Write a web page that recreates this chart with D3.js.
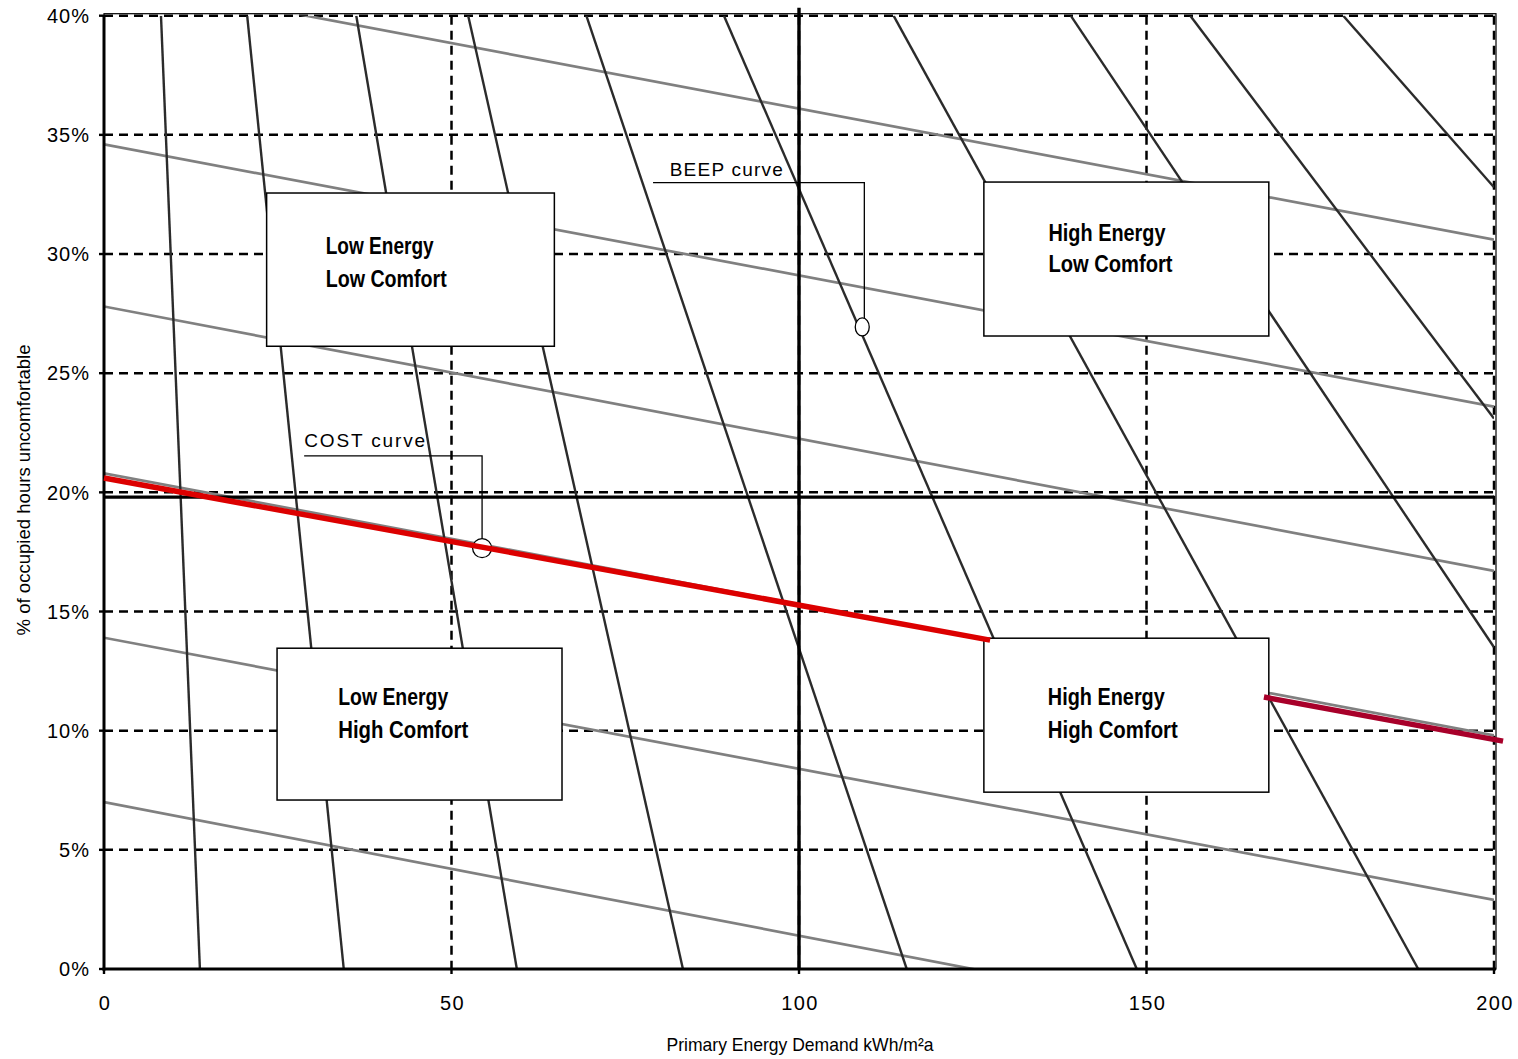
<!DOCTYPE html>
<html><head><meta charset="utf-8">
<script src="https://cdn.jsdelivr.net/npm/d3@7"></script>
<style>
html,body{margin:0;padding:0;background:#fff;}
svg{display:block;}
</style></head>
<body>
<svg id="chart" width="1518" height="1059"></svg>
<script>
// ---------- data ----------
const xTicks = [0, 50, 100, 150, 200];
const yTicks = [0, 5, 10, 15, 20, 25, 30, 35, 40];
// BEEP (steep) curves: x at 40% and end point
const beepTopX = [8.2, 20.6, 36.3, 52.4, 69.4, 89.2, 113.6, 139.1, 156.3, 178.3];
const beepEndX = [13.8, 34.5, 59.4, 83.3, 115.5, 148.6, 189.1, 200, 200, 200];
const beepEndY = [0, 0, 0, 0, 0, 0, 0, 13.5, 23.1, 32.8];
// COST (shallow) curves: % at x=0 and x=200
const costLeftY = [7.0, 13.9, 20.8, 27.8, 34.6, 41.6];
const costRightY = [-4.2, 2.9, 9.8, 16.7, 23.6, 30.6];
// red highlighted cost curve segments [x0,y0,x1,y1]
const redSegX0 = [0, 166.9];
const redSegY0 = [20.6, 11.41];
const redSegX1 = [127.5, 201.3];
const redSegY1 = [13.8, 9.56];
const redColors = ["#dc0000", "#a8002a"];
// reference lines
const refEnergy = 100;
const refComfort = 19.8;
// quadrant boxes
const boxLine1 = ["Low Energy", "High Energy", "Low Energy", "High Energy"];
const boxLine2 = ["Low Comfort", "Low Comfort", "High Comfort", "High Comfort"];
const boxX0 = [23.4, 126.6, 24.9, 126.6];
const boxX1 = [64.8, 167.6, 65.9, 167.6];
const boxYTop = [32.56, 33.02, 13.46, 13.88];
const boxYBot = [26.13, 26.56, 7.09, 7.42];
const boxTextX = [31.9, 135.9, 33.7, 135.8];
const boxBase1 = [29.99, 30.55, 11.07, 11.07];
const boxBase2 = [28.61, 29.25, 9.69, 9.69];
const boxW1 = [108, 117, 110, 117];
const boxW2 = [121, 124, 130, 130];
// annotations
const annText = ["BEEP curve", "COST curve"];
const annTextW = [113, 121];
const annTextX = [81.4, 28.8];
const annTextY = [33.26, 21.9];
const annLineX0 = [79.0, 28.8];
const annLineX1 = [109.4, 54.4];
const annLineY = [33.0, 21.53];
const annDropY = [27.3, 18.04];
const annMarkX = [109.1, 54.4];
const annMarkY = [26.94, 17.66];
const annMarkRx = [7, 9.5];
const annMarkRy = [9, 9.5];

// ---------- scales ----------
const svg = d3.select("#chart");
const x = d3.scaleLinear().domain([0, 200]).range([104, 1494]);
const y = d3.scaleLinear().domain([0, 40]).range([969, 15.7]);

svg.append("defs").append("clipPath").attr("id", "plotclip")
  .append("rect").attr("x", x(0)).attr("y", y(40)).attr("width", x(200) - x(0)).attr("height", y(0) - y(40));

// frame (thin solid)
svg.append("rect").attr("x", x(0)).attr("y", y(40) - 2).attr("width", x(200) + 2 - x(0)).attr("height", y(0) - y(40) + 2)
  .attr("fill", "none").attr("stroke", "#000").attr("stroke-width", 1.2);

// dashed grid
const grid = svg.append("g");
grid.selectAll("line.h").data(yTicks.filter(d => d > 0)).join("line")
  .attr("x1", x(0)).attr("x2", x(200)).attr("y1", d => y(d)).attr("y2", d => y(d))
  .attr("stroke", "#000").attr("stroke-width", 2.5).attr("stroke-dasharray", "9,6");
grid.selectAll("line.v").data(xTicks.filter(d => d > 0)).join("line")
  .attr("x1", d => x(d)).attr("x2", d => x(d)).attr("y1", y(40)).attr("y2", y(0))
  .attr("stroke", "#000").attr("stroke-width", 2.5).attr("stroke-dasharray", "9,6");

const plot = svg.append("g").attr("clip-path", "url(#plotclip)");
// cost curves (gray)
plot.selectAll("line.cost").data(costLeftY).join("line")
  .attr("x1", x(0)).attr("y1", d => y(d))
  .attr("x2", x(200)).attr("y2", (d, i) => y(costRightY[i]))
  .attr("stroke", "#808080").attr("stroke-width", 2.7);
// beep curves (dark)
plot.selectAll("line.beep").data(beepTopX).join("line")
  .attr("x1", d => x(d)).attr("y1", y(40))
  .attr("x2", (d, i) => x(beepEndX[i])).attr("y2", (d, i) => y(beepEndY[i]))
  .attr("stroke", "#2b2b2b").attr("stroke-width", 2.4);

// reference lines (thick)
svg.append("line").attr("x1", x(refEnergy)).attr("x2", x(refEnergy)).attr("y1", y(40) - 8).attr("y2", y(0))
  .attr("stroke", "#000").attr("stroke-width", 3.4);
svg.append("line").attr("x1", x(0)).attr("x2", x(200)).attr("y1", y(refComfort)).attr("y2", y(refComfort))
  .attr("stroke", "#000").attr("stroke-width", 3.4);

// axes lines
svg.append("line").attr("x1", x(0)).attr("x2", x(0)).attr("y1", y(40)).attr("y2", y(0) + 1.5)
  .attr("stroke", "#000").attr("stroke-width", 3);
svg.append("line").attr("x1", x(0) - 1.5).attr("x2", x(200) + 2).attr("y1", y(0)).attr("y2", y(0))
  .attr("stroke", "#000").attr("stroke-width", 3);

// ticks
svg.selectAll("line.yt").data(yTicks).join("line")
  .attr("x1", x(0) - 5).attr("x2", x(0)).attr("y1", d => y(d)).attr("y2", d => y(d))
  .attr("stroke", "#000").attr("stroke-width", 2.4);
svg.selectAll("line.xt").data(xTicks).join("line")
  .attr("x1", d => x(d)).attr("x2", d => x(d)).attr("y1", y(0)).attr("y2", y(0) + 5)
  .attr("stroke", "#000").attr("stroke-width", 2.4);

const tickFont = "'Liberation Sans', Arial, sans-serif";
svg.selectAll("text.yl").data(yTicks).join("text")
  .attr("x", x(0) - 14).attr("y", d => y(d)).attr("dy", "0.36em")
  .attr("text-anchor", "end").attr("font-family", tickFont).attr("font-size", 20)
  .attr("letter-spacing", 1).text(d => d + "%");
svg.selectAll("text.xl").data(xTicks).join("text")
  .attr("x", d => x(d) + 1).attr("y", 1010)
  .attr("text-anchor", "middle").attr("font-family", tickFont).attr("font-size", 20)
  .attr("letter-spacing", 1.4).text(d => d);

// axis titles
const narrow = "'Liberation Sans Narrow', 'Arial Narrow', 'Liberation Sans', sans-serif";
svg.append("text").attr("x", 800).attr("y", 1051).attr("text-anchor", "middle")
  .attr("font-family", narrow).attr("font-size", 19)
  .attr("textLength", 267).attr("lengthAdjust", "spacingAndGlyphs")
  .text("Primary Energy Demand kWh/m²a");
svg.append("text").attr("transform", "translate(30,490) rotate(-90)").attr("text-anchor", "middle")
  .attr("font-family", narrow).attr("font-size", 18)
  .attr("textLength", 291).attr("lengthAdjust", "spacingAndGlyphs")
  .text("% of occupied hours uncomfortable");

// boxes
const boxes = svg.append("g");
boxLine1.forEach((t, i) => {
  boxes.append("rect").attr("x", x(boxX0[i])).attr("y", y(boxYTop[i]))
    .attr("width", x(boxX1[i]) - x(boxX0[i])).attr("height", y(boxYBot[i]) - y(boxYTop[i]))
    .attr("fill", "#fff").attr("stroke", "#000").attr("stroke-width", 1.5);
  boxes.append("text").attr("x", x(boxTextX[i])).attr("y", y(boxBase1[i]))
    .attr("font-family", narrow).attr("font-weight", "bold").attr("font-size", 23)
    .attr("textLength", boxW1[i]).attr("lengthAdjust", "spacingAndGlyphs").text(t);
  boxes.append("text").attr("x", x(boxTextX[i])).attr("y", y(boxBase2[i]))
    .attr("font-family", narrow).attr("font-weight", "bold").attr("font-size", 23)
    .attr("textLength", boxW2[i]).attr("lengthAdjust", "spacingAndGlyphs").text(boxLine2[i]);
});

// annotations
const ann = svg.append("g");
annText.forEach((t, i) => {
  ann.append("path")
    .attr("d", `M${x(annLineX0[i])},${y(annLineY[i])}H${x(annLineX1[i])}V${y(annDropY[i])}`)
    .attr("fill", "none").attr("stroke", "#000").attr("stroke-width", 1.3);
  ann.append("ellipse").attr("cx", x(annMarkX[i])).attr("cy", y(annMarkY[i]))
    .attr("rx", annMarkRx[i]).attr("ry", annMarkRy[i])
    .attr("fill", "#fff").attr("stroke", "#000").attr("stroke-width", 1.3);
  ann.append("text").attr("x", x(annTextX[i])).attr("y", y(annTextY[i]))
    .attr("font-family", tickFont).attr("font-size", 19)
    .attr("textLength", annTextW[i]).attr("lengthAdjust", "spacing").text(t);
});

// red cost curve segments
svg.selectAll("line.red").data(redSegX0).join("line")
  .attr("x1", d => x(d)).attr("y1", (d, i) => y(redSegY0[i]))
  .attr("x2", (d, i) => x(redSegX1[i])).attr("y2", (d, i) => y(redSegY1[i]))
  .attr("stroke", (d, i) => redColors[i]).attr("stroke-width", 5.5);
</script>
</body></html>
